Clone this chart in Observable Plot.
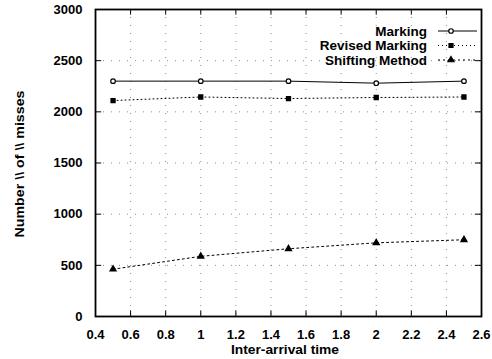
<!DOCTYPE html>
<html><head><meta charset="utf-8">
<script src="https://cdn.jsdelivr.net/npm/d3@7"></script>
<script src="https://cdn.jsdelivr.net/npm/@observablehq/plot@0.6"></script>
<style>
body{margin:0;background:#fff;}
svg{font-family:"Liberation Sans",Arial,sans-serif;}
</style></head>
<body><div id="chart"></div>
<script>
const xValues = [0.5, 1, 1.5, 2, 2.5];
const marking = [2300, 2300, 2300, 2280, 2300];
const revisedMarking = [2110, 2145, 2130, 2140, 2145];
const shiftingMethod = [462, 588, 662, 720, 750];
const seriesNames = ["Marking", "Revised Marking", "Shifting Method"];
const xTicks = [0.4,0.6,0.8,1,1.2,1.4,1.6,1.8,2,2.2,2.4,2.6];
const yTicks = [0,500,1000,1500,2000,2500,3000];

const seriesVals = [marking, revisedMarking, shiftingMethod];
const data = seriesNames.flatMap((s, i) => xValues.map((x, j) => ({series: s, x, y: seriesVals[i][j]})));
const styles = {
  "Marking": {dash: null, symbol: "circle", fill: "white"},
  "Revised Marking": {dash: "1,3", symbol: "square", fill: "black"},
  "Shifting Method": {dash: "2,3", symbol: "triangle", fill: "black"}
};
const fmtX = d => String(+d.toFixed(1));

const chart = Plot.plot({
  width: 492, height: 359,
  marginLeft: 95, marginRight: 11, marginTop: 9, marginBottom: 43,
  style: {fontFamily: "'Liberation Sans', Arial, sans-serif", fontSize: "13px", fontWeight: "bold", color: "black"},
  x: {domain: [0.4, 2.6], ticks: xTicks, tickFormat: fmtX, label: null},
  y: {domain: [0, 3000], ticks: yTicks, tickFormat: d => String(d), label: null},
  marks: [
    Plot.gridX(xTicks, {stroke: "black", strokeOpacity: 0.45, strokeDasharray: "1,7"}),
    Plot.gridY(yTicks, {stroke: "black", strokeOpacity: 0.45, strokeDasharray: "1,7"}),
    Plot.axisX({ticks: xTicks, tickSize: 0, tickPadding: 13.5, fontSize: 13, fontWeight: "bold", tickFormat: fmtX}),
    Plot.axisY({ticks: yTicks, tickSize: 0, tickPadding: 13, fontSize: 13, fontWeight: "bold", tickFormat: d => String(d)}),
    Plot.ruleX(xTicks, {x: d => d, y1: 0, y2: 55, stroke: "black"}),
    Plot.ruleX(xTicks, {x: d => d, y1: 2945, y2: 3000, stroke: "black"}),
    Plot.ruleY(yTicks, {y: d => d, x1: 0.4, x2: 0.435, stroke: "black"}),
    Plot.ruleY(yTicks, {y: d => d, x1: 2.565, x2: 2.6, stroke: "black"}),
    ...seriesNames.map(s => Plot.line(data.filter(d => d.series === s), {x: "x", y: "y", stroke: "black", strokeWidth: 1, strokeDasharray: styles[s].dash})),
    ...seriesNames.map(s => Plot.dot(data.filter(d => d.series === s), {x: "x", y: "y", symbol: styles[s].symbol, r: 2.3, stroke: "black", strokeWidth: 1.2, fill: styles[s].fill})),
    Plot.frame({stroke: "black", strokeWidth: 1.8})
  ]
});

const svg = d3.select(chart);
// axis titles
svg.append("text").attr("x", 285).attr("y", 354).attr("text-anchor", "middle")
  .attr("font-size", 13).attr("font-weight", "bold")
  .attr("textLength", 108).attr("lengthAdjust", "spacingAndGlyphs").text("Inter-arrival time");
svg.append("text").attr("transform", "translate(24,164) rotate(-90)").attr("text-anchor", "middle")
  .attr("font-size", 12.5).attr("font-weight", "bold")
  .attr("textLength", 147).attr("lengthAdjust", "spacingAndGlyphs").text("Number \\\\ of \\\\ misses");
// legend
const lg = svg.append("g");
seriesNames.forEach((s, i) => {
  const y = 31 + i * 14.5;
  lg.append("text").attr("x", 427).attr("y", y).attr("dy", "0.36em").attr("text-anchor", "end")
    .attr("font-size", 13.5).attr("font-weight", "bold").text(s);
  lg.append("line").attr("x1", 438).attr("x2", 477).attr("y1", y).attr("y2", y)
    .attr("stroke", "black").attr("stroke-dasharray", styles[s].dash);
  const sym = d3.symbol().type(s === "Marking" ? d3.symbolCircle : s === "Revised Marking" ? d3.symbolSquare : d3.symbolTriangle).size(16);
  lg.append("path").attr("d", sym()).attr("transform", `translate(451,${y})`)
    .attr("fill", styles[s].fill).attr("stroke", "black").attr("stroke-width", 1.2);
});
document.getElementById("chart").appendChild(chart);
</script>
</body></html>
